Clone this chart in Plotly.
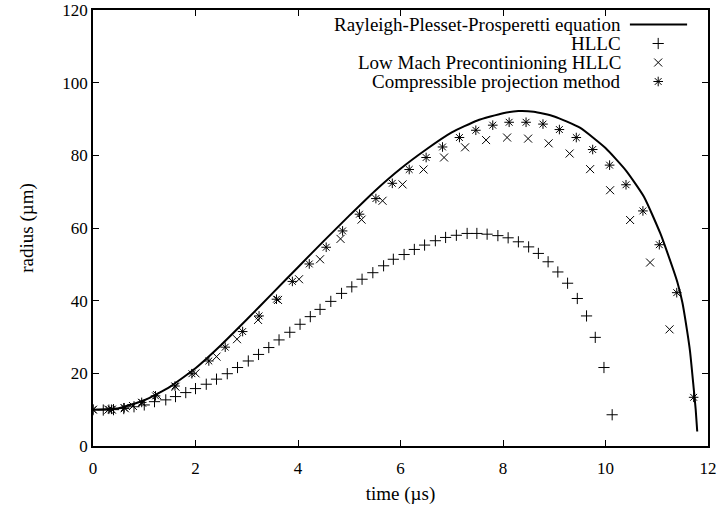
import plotly.graph_objects as go

# Rayleigh-Plesset-Prosperetti curve
rp_t = [0.0, 0.5, 1.0, 1.5, 2.0, 2.5, 3.0, 3.5, 4.0, 4.5, 5.0, 5.5, 6.0, 6.5, 7.0,
        7.5, 8.0, 8.3, 8.6, 9.0, 9.5, 10.0, 10.4, 10.75, 11.07, 11.2, 11.4, 11.5,
        11.59, 11.65, 11.72, 11.76, 11.79]
rp_r = [10.0, 10.4, 12.6, 16.3, 21.4, 27.8, 34.8, 42.0, 49.2, 56.4, 63.4, 70.2,
        76.3, 81.6, 86.3, 89.6, 91.6, 92.2, 92.0, 90.7, 87.6, 82.0, 75.8, 68.6,
        58.5, 53.5, 45.2, 39.5, 31.9, 26.0, 16.0, 10.0, 4.0]

# HLLC (+)
hllc_t = [0.0, 0.2, 0.4, 0.6, 0.8, 1.0, 1.2, 1.42, 1.61, 1.81, 2.0, 2.21, 2.41, 2.62,
          2.82, 3.03, 3.23, 3.43, 3.63, 3.84, 4.04, 4.24, 4.43, 4.64, 4.85, 5.05,
          5.25, 5.46, 5.67, 5.86, 6.07, 6.27, 6.47, 6.68, 6.88, 7.09, 7.30, 7.49,
          7.69, 7.90, 8.10, 8.30, 8.50, 8.69, 8.88, 9.07, 9.26, 9.45, 9.63, 9.80,
          9.97, 10.13]
hllc_r = [10.0, 9.9, 10.0, 10.3, 10.8, 11.3, 12.2, 12.7, 13.6, 14.7, 15.8, 17.0,
          18.4, 19.9, 21.6, 23.4, 25.2, 27.1, 29.2, 31.3, 33.5, 35.6, 37.6, 39.8,
          42.0, 43.8, 45.9, 47.7, 49.6, 51.4, 52.7, 54.1, 55.3, 56.5, 57.4, 58.0,
          58.5, 58.5, 58.3, 57.9, 57.3, 56.2, 54.8, 53.0, 50.7, 47.9, 44.8, 40.6,
          35.8, 29.9, 21.6, 8.6]

# Low Mach Preconditioning HLLC (x)
lm_t = [0.0, 0.3, 0.37, 0.62, 0.78, 0.96, 1.25, 1.61, 2.0, 2.41, 2.81, 3.22, 3.61,
        4.02, 4.43, 4.83, 5.24, 5.65, 6.04, 6.45, 6.85, 7.26, 7.67, 8.08, 8.49,
        8.89, 9.30, 9.70, 10.09, 10.48, 10.87, 11.25]
lm_r = [10.0, 10.0, 10.0, 10.4, 11.0, 11.9, 14.0, 16.3, 20.0, 24.6, 29.4, 34.7,
        40.2, 45.9, 51.4, 57.0, 62.3, 67.5, 72.0, 76.1, 79.4, 82.2, 84.2, 84.9,
        84.6, 83.3, 80.5, 76.2, 70.4, 62.2, 50.5, 32.1]

# Compressible projection method (*)
cp_t = [0.0, 0.31, 0.36, 0.61, 0.95, 1.22, 1.60, 1.93, 2.26, 2.58, 2.92, 3.24,
        3.58, 3.89, 4.22, 4.55, 4.87, 5.20, 5.52, 5.84, 6.17, 6.50, 6.82, 7.15,
        7.47, 7.80, 8.12, 8.45, 8.78, 9.10, 9.43, 9.75, 10.08, 10.40, 10.73,
        11.05, 11.39, 11.72]
cp_r = [10.0, 10.1, 10.1, 10.5, 12.0, 13.8, 16.5, 19.9, 23.4, 27.2, 31.5, 35.8,
        40.4, 45.3, 50.1, 54.7, 59.2, 63.8, 68.1, 72.3, 76.1, 79.4, 82.3, 84.9,
        86.9, 88.3, 89.1, 89.1, 88.6, 87.1, 84.9, 81.6, 77.3, 71.9, 64.7, 55.4,
        42.2, 13.4]

legend_labels = ["Rayleigh-Plesset-Prosperetti equation", "HLLC",
                 "Low Mach Precontinioning HLLC", "Compressible projection method"]
x_ticks = [0, 2, 4, 6, 8, 10, 12]
y_ticks = [0, 20, 40, 60, 80, 100, 120]

FONT = "Liberation Serif, DejaVu Serif, serif"
marker_line = dict(color="black", width=1)

fig = go.Figure()
fig.add_trace(go.Scatter(x=rp_t, y=rp_r, mode="lines",
                         line=dict(color="black", width=2, shape="spline", smoothing=0.5),
                         showlegend=False, hoverinfo="skip"))
fig.add_trace(go.Scatter(x=hllc_t, y=hllc_r, mode="markers",
                         marker=dict(symbol="cross-thin-open", size=8, color="black", line=marker_line),
                         showlegend=False))
fig.add_trace(go.Scatter(x=lm_t, y=lm_r, mode="markers",
                         marker=dict(symbol="x-thin-open", size=8, color="black", line=marker_line),
                         showlegend=False))
fig.add_trace(go.Scatter(x=cp_t, y=cp_r, mode="markers",
                         marker=dict(symbol="asterisk-open", size=8, color="black", line=marker_line),
                         showlegend=False))

# gnuplot-style key: right-aligned text with samples on the right
plot_top, plot_bottom = 10, 446
key_px = [24.5, 43.5, 62.5, 81.5]
key_y = [(plot_bottom - p) / (plot_bottom - plot_top) for p in key_px]
text_x = 0.862
sample_x0, sample_x1, sample_xm = 0.873, 0.966, 0.919
for lab, yy in zip(legend_labels, key_y):
    fig.add_annotation(x=text_x, y=yy, xref="paper", yref="paper", text=lab,
                       showarrow=False, xanchor="right", yanchor="middle",
                       font=dict(family=FONT, size=19, color="black"))
fig.add_trace(go.Scatter(x=[sample_x0, sample_x1], y=[key_y[0], key_y[0]], mode="lines",
                         line=dict(color="black", width=2), xaxis="x2", yaxis="y2",
                         showlegend=False, hoverinfo="skip"))
for sym, yy in zip(["cross-thin-open", "x-thin-open", "asterisk-open"], key_y[1:]):
    fig.add_trace(go.Scatter(x=[sample_xm], y=[yy], mode="markers",
                             marker=dict(symbol=sym, size=8, color="black", line=marker_line),
                             xaxis="x2", yaxis="y2", showlegend=False, hoverinfo="skip"))

axis_common = dict(showline=True, linecolor="black", linewidth=1.5, mirror="ticks",
                   ticks="inside", ticklen=6, tickwidth=1, tickcolor="black",
                   showgrid=False, zeroline=False, automargin=False,
                   tickfont=dict(family=FONT, size=17, color="black"))
fig.update_layout(
    width=721, height=508,
    margin=dict(l=93, r=13, t=plot_top, b=508 - plot_bottom),
    paper_bgcolor="white", plot_bgcolor="white",
    xaxis=dict(range=[0, 12], tickvals=x_ticks, ticklabelstandoff=6,
               title=dict(text="time (µs)", font=dict(family=FONT, size=19, color="black"), standoff=10),
               **axis_common),
    yaxis=dict(range=[0, 120], tickvals=y_ticks,
               title=dict(text="radius (µm)", font=dict(family=FONT, size=19, color="black"), standoff=24),
               **axis_common),
    xaxis2=dict(range=[0, 1], overlaying="x", visible=False, anchor="y2"),
    yaxis2=dict(range=[0, 1], overlaying="y", visible=False, anchor="x2"),
    showlegend=False,
)
fig.write_html("out.html")
